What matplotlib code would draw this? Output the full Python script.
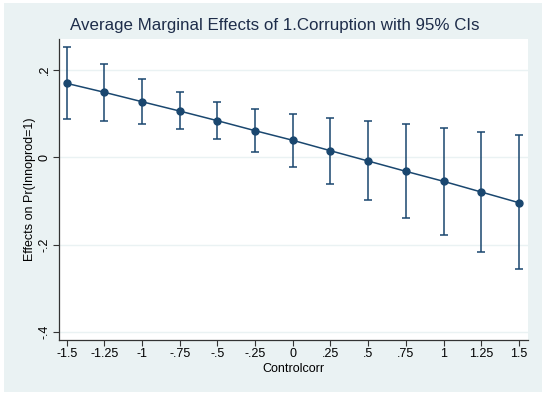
import numpy as np
import matplotlib.pyplot as plt
from matplotlib.patches import Rectangle

plt.rcParams['font.family'] = ['Liberation Sans', 'DejaVu Sans']

# values
controlcorr = [-1.5, -1.25, -1, -0.75, -0.5, -0.25, 0, 0.25, 0.5, 0.75, 1, 1.25, 1.5]
margins = [0.1695, 0.149, 0.1274, 0.106, 0.0839, 0.061, 0.039, 0.0151, -0.0085,
           -0.0321, -0.055, -0.0795, -0.104]
ci_upper = [0.2534, 0.2144, 0.1787, 0.149, 0.126, 0.110, 0.0995, 0.0907, 0.0832,
            0.0756, 0.0679, 0.0587, 0.0504]
ci_lower = [0.0877, 0.0839, 0.0763, 0.0641, 0.0426, 0.0121, -0.022, -0.0605, -0.0985,
            -0.1384, -0.178, -0.217, -0.2566]
xtick_labels = ['-1.5', '-1.25', '-1', '-.75', '-.5', '-.25', '0', '.25', '.5', '.75',
                '1', '1.25', '1.5']
yticks = [-0.4, -0.2, 0, 0.2]
ytick_labels = ['-.4', '-.2', '0', '.2']

navy = '#1a476f'
bg = '#eaf2f3'

fig = plt.figure(figsize=(5.44, 3.97), dpi=100, facecolor='white')
fig.patches.append(Rectangle((0.008, 0.012), 0.988, 0.98, transform=fig.transFigure,
                             facecolor=bg, edgecolor='none', zorder=-10))
ax = fig.add_axes([0.1085, 0.1436, 0.862, 0.758])
ax.set_facecolor('white')

err = [np.array(margins) - np.array(ci_lower), np.array(ci_upper) - np.array(margins)]
ax.errorbar(controlcorr, margins, yerr=err, color=navy, lw=1.1, elinewidth=1.1,
            capsize=2.8, capthick=1.1, marker='o', markersize=5, zorder=3)

ax.set_xlim(-1.551, 1.56)
ax.set_ylim(-0.4186, 0.271)
ax.set_xticks(controlcorr)
ax.set_xticklabels(xtick_labels, fontsize=9)
ax.set_yticks(yticks)
ax.set_yticklabels(ytick_labels, fontsize=9, rotation=90, va='center')
ax.grid(axis='y', color=bg, lw=1)
ax.set_axisbelow(True)

for s in ['top', 'right']:
    ax.spines[s].set_visible(False)
for s in ['left', 'bottom']:
    ax.spines[s].set_color('#333333')
    ax.spines[s].set_linewidth(0.9)
ax.tick_params(direction='out', length=4, width=0.8, color='#333333', pad=2)

ax.set_xlabel('Controlcorr', fontsize=9, labelpad=2)
ax.set_ylabel('Effects on Pr(Innoprod=1)', fontsize=9, labelpad=2)
fig.text(0.505, 0.935, 'Average Marginal Effects of 1.Corruption with 95% CIs',
         fontsize=12.2, color='#1e2d4a', ha='center', va='center')

fig.savefig('out.png', dpi=100, facecolor=fig.get_facecolor())
